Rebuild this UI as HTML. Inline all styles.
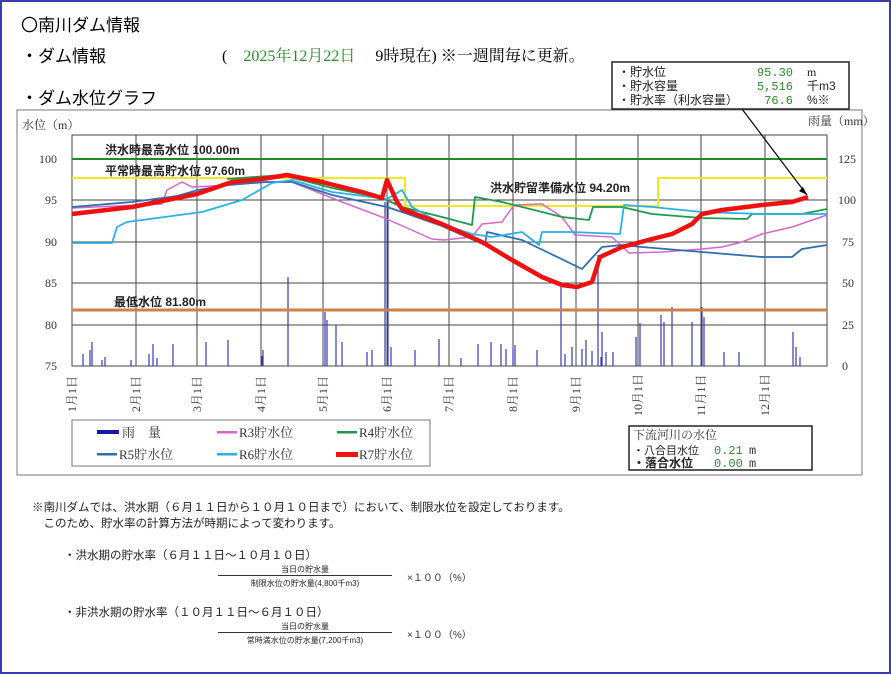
<!DOCTYPE html>
<html><head><meta charset="utf-8"><style>
body{margin:0;background:#fff;}
#pg{position:relative;width:887px;height:670px;border:2px solid #3b3bb0;overflow:hidden;font-family:"Liberation Serif","Noto Serif CJK SC","Noto Sans CJK JP",serif;}
.t{position:absolute;white-space:nowrap;}
</style></head><body><div id="pg">
<div class="t" style="left:19px;top:9px;font-size:17px;font-family:'Liberation Sans','Noto Sans CJK JP',sans-serif;">〇南川ダム情報</div>
<div class="t" style="left:19px;top:40px;font-size:17px;font-family:'Liberation Sans','Noto Sans CJK JP',sans-serif;">・ダム情報</div>
<div class="t" style="left:220px;top:41px;font-size:16px;">(　<span style="color:#2a8a2a">2025年12月22日</span>　 9時現在) ※一週間毎に更新。</div>
<div class="t" style="left:19px;top:82px;font-size:17px;font-family:'Liberation Sans','Noto Sans CJK JP',sans-serif;">・ダム水位グラフ</div>
<svg style="position:absolute;left:0;top:0" width="891" height="674" font-family="Liberation Serif, Noto Serif CJK SC, serif">
<rect x="15" y="108" width="845" height="365" fill="none" stroke="#777" stroke-width="1"/>
<text x="20" y="127" font-size="12" fill="#333">水位（m）</text>
<text x="806" y="123" font-size="12" fill="#333">雨量（mm）</text>
<g stroke="#444" stroke-width="1" fill="none">
<rect x="70" y="133" width="755" height="231"/>
<path d="M134 133V364M195 133V364M259 133V364M321 133V364M385 133V364M447 133V364M511 133V364M574 133V364M636 133V364M699 133V364M763 133V364"/>
<path d="M70 198H825M70 240H825M70 281H825M70 323H825"/>
</g>
<g font-size="12" fill="#333" text-anchor="end">
<text x="55" y="161">100</text><text x="55" y="202">95</text><text x="55" y="244">90</text><text x="55" y="285">85</text><text x="55" y="327">80</text><text x="55" y="368">75</text>
</g>
<g font-size="12" fill="#333">
<text x="836" y="161">125</text><text x="836" y="202">100</text><text x="840" y="244">75</text><text x="840" y="285">50</text><text x="840" y="327">25</text><text x="840" y="368">0</text>
</g>
<g font-size="12" fill="#333">
<text transform="translate(74,410) rotate(-90)">1月1日</text>
<text transform="translate(138,410) rotate(-90)">2月1日</text>
<text transform="translate(199,410) rotate(-90)">3月1日</text>
<text transform="translate(263,410) rotate(-90)">4月1日</text>
<text transform="translate(325,410) rotate(-90)">5月1日</text>
<text transform="translate(389,410) rotate(-90)">6月1日</text>
<text transform="translate(451,410) rotate(-90)">7月1日</text>
<text transform="translate(515,410) rotate(-90)">8月1日</text>
<text transform="translate(578,410) rotate(-90)">9月1日</text>
<text transform="translate(640,414) rotate(-90)">10月1日</text>
<text transform="translate(703,414) rotate(-90)">11月1日</text>
<text transform="translate(767,414) rotate(-90)">12月1日</text>
</g>
<!-- rain -->
<g stroke="#3a3ab0" stroke-width="1.2">
<path d="M81 364V352M88 364V348M90 364V340M100 364V358M103 364V355M129 364V358M147 364V352M151 364V342M155 364V356M171 364V342M204 364V340M226 364V338M260 364V354M261 364V348M286 364V275M323 364V310M325 364V318M334 364V323M340 364V340M365 364V350M370 364V348M383 364V200M386 364V200M389 364V345M413 364V348M437 364V337M459 364V356M476 364V342M489 364V340M499 364V342M504 364V347M511 364V347M513 364V343M535 364V348M559 364V282M563 364V352M570 364V345M580 364V347M584 364V338M590 364V349M596 364V253M599 364V355M600 364V330M604 364V350M611 364V350M634 364V335M638 364V321M659 364V313M662 364V320M670 364V305M690 364V320M700 364V305M702 364V315M722 364V350M737 364V350M791 364V330M794 364V345M798 364V355"/>
</g>
<!-- ref lines -->
<path d="M70 157H825" stroke="#1f8a2a" stroke-width="2"/>
<path d="M70 308H825" stroke="#c8824a" stroke-width="3"/>
<path d="M70 176H403V204H656V176H825" stroke="#f0e820" stroke-width="2" fill="none"/>
<g font-size="12" font-weight="bold" font-family="Liberation Sans, Noto Sans CJK JP, sans-serif" fill="#222">
<text x="103" y="152">洪水時最高水位 100.00m</text>
<text x="103" y="173">平常時最高貯水位 97.60m</text>
<text x="488" y="190">洪水貯留準備水位 94.20m</text>
<text x="112" y="304">最低水位 81.80m</text>
</g>
<g fill="none" stroke-linejoin="round">
<path stroke="#d865c8" stroke-width="1.5" d="M70 206 160 202 165 188 180 180 190 185 230 183 260 180 290 180 340 200 380 215 430 237 442 238 470 235 480 222 500 220 512 203 540 202 560 215 573 233 610 235 627 251 660 250 700 247 720 245 740 240 760 232 790 225 825 213"/>
<path stroke="#1f9a4a" stroke-width="1.8" d="M225 177 280 173 330 186 380 196 400 205 440 215 470 223 473 195 500 200 560 215 587 218 591 205 620 205 650 212 700 216 745 217 750 212 800 212 825 207"/>
<path stroke="#2e6fb0" stroke-width="1.8" d="M70 205 130 200 175 194 196 188 225 183 265 180 290 180 330 193 385 205 400 210 440 224 483 243 485 230 520 238 545 250 580 267 600 245 620 243 640 245 700 250 760 255 790 255 800 247 825 243"/>
<path stroke="#2ab0e8" stroke-width="1.8" d="M70 241 110 241 115 225 125 220 200 210 240 198 270 181 290 178 330 190 385 197 400 188 410 205 440 222 470 232 490 235 520 230 537 243 540 230 570 230 618 232 622 203 650 205 700 210 760 212 825 212"/>
<path stroke="#ee1111" stroke-width="4.5" d="M70 212 130 205 195 192 230 180 260 177 285 173 320 180 360 190 380 196 385 178 395 200 400 207 440 222 480 240 510 258 540 275 560 283 575 285 590 280 598 255 620 245 650 237 670 232 690 222 700 212 720 208 760 203 790 200 806 195"/>
</g>
<path d="M740 107 805 193" stroke="#000" stroke-width="1.2"/>
<path d="M805 193l-8-4 4-4z" fill="#000"/>
<!-- info box -->
<rect x="610" y="60" width="237" height="47" fill="#fff" stroke="#222" stroke-width="1.5"/>
<g font-size="12" font-family="Liberation Sans, Noto Sans CJK JP, sans-serif" fill="#222">
<text x="616" y="74">・貯水位</text><text x="616" y="88">・貯水容量</text><text x="616" y="102">・貯水率（利水容量）</text>
<text x="805" y="74" font-family="Liberation Serif, serif">m</text><text x="805" y="88">千m3</text><text x="805" y="102">%※</text>
</g>
<g font-size="12" font-family="Liberation Mono, monospace" fill="#2a8a2a" text-anchor="end">
<text x="791" y="74">95.30</text><text x="791" y="88">5,516</text><text x="791" y="102">76.6</text>
</g>
<!-- legend -->
<rect x="70" y="418" width="358" height="46" fill="#fff" stroke="#777"/>
<g font-size="13" fill="#333">
<rect x="95" y="428" width="22" height="4" fill="#1a1aa0"/><text x="120" y="435">雨　量</text>
<rect x="215" y="429" width="20" height="2.5" fill="#d865c8"/><text x="237" y="435">R3貯水位</text>
<rect x="335" y="429" width="20" height="2.5" fill="#1f9a4a"/><text x="357" y="435">R4貯水位</text>
<rect x="95" y="451" width="20" height="2.5" fill="#2e6fb0"/><text x="117" y="457">R5貯水位</text>
<rect x="215" y="451" width="20" height="2.5" fill="#2ab0e8"/><text x="237" y="457">R6貯水位</text>
<rect x="334" y="450" width="22" height="5" fill="#ee1111"/><text x="357" y="457">R7貯水位</text>
</g>
<rect x="627" y="424" width="183" height="44" fill="#fff" stroke="#222" stroke-width="1.5"/>
<text x="631" y="437" font-size="12" fill="#333">下流河川の水位</text>
<g font-size="11" font-family="Liberation Sans, Noto Sans CJK JP, sans-serif" fill="#222">
<text x="631" y="452">・八合目水位</text><text x="631" y="465" font-size="12" font-weight="bold">・落合水位</text>
</g>
<g font-size="12" font-family="Liberation Mono, monospace">
<text x="712" y="452" fill="#2a8a2a">0.21</text><text x="747" y="452" fill="#333">m</text>
<text x="712" y="465" fill="#2a8a2a">0.00</text><text x="747" y="465" fill="#333">m</text>
</g>
</svg>
<div class="t" style="left:30px;top:497px;font-size:11.5px;color:#222;font-family:'Liberation Sans','Noto Sans CJK JP',sans-serif;">※南川ダムでは、洪水期（６月１１日から１０月１０日まで）において、制限水位を設定しております。<br>　このため、貯水率の計算方法が時期によって変わります。</div>
<div class="t" style="left:62px;top:545px;font-size:11.5px;color:#222;font-family:'Liberation Sans','Noto Sans CJK JP',sans-serif;">・洪水期の貯水率（６月１１日～１０月１０日）</div>
<div class="t" style="left:216px;top:562px;width:174px;text-align:center;font-size:8px;color:#222;font-family:'Liberation Sans','Noto Sans CJK JP',sans-serif;">当日の貯水量</div>
<div class="t" style="left:216px;top:573px;width:174px;border-top:1px solid #333;"></div>
<div class="t" style="left:216px;top:576px;width:174px;text-align:center;font-size:8px;color:#222;font-family:'Liberation Sans','Noto Sans CJK JP',sans-serif;">制限水位の貯水量(4,800千m3)</div>
<div class="t" style="left:405px;top:567px;font-size:10px;color:#333;font-family:'Liberation Sans','Noto Sans CJK JP',sans-serif;">×１００（%）</div>
<div class="t" style="left:62px;top:602px;font-size:11.5px;color:#222;font-family:'Liberation Sans','Noto Sans CJK JP',sans-serif;">・非洪水期の貯水率（１０月１１日～６月１０日）</div>
<div class="t" style="left:216px;top:619px;width:174px;text-align:center;font-size:8px;color:#222;font-family:'Liberation Sans','Noto Sans CJK JP',sans-serif;">当日の貯水量</div>
<div class="t" style="left:216px;top:630px;width:174px;border-top:1px solid #333;"></div>
<div class="t" style="left:216px;top:633px;width:174px;text-align:center;font-size:8px;color:#222;font-family:'Liberation Sans','Noto Sans CJK JP',sans-serif;">常時満水位の貯水量(7,200千m3)</div>
<div class="t" style="left:405px;top:624px;font-size:10px;color:#333;font-family:'Liberation Sans','Noto Sans CJK JP',sans-serif;">×１００（%）</div>
</div></body></html>
